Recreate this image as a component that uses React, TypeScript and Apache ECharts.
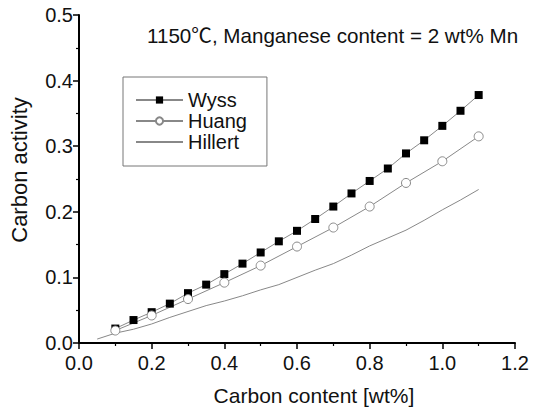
import React, { useEffect, useRef } from "react";
import * as echarts from "echarts";

const wyssX = [0.1, 0.15, 0.2, 0.25, 0.3, 0.35, 0.4, 0.45, 0.5, 0.55, 0.6, 0.65, 0.7, 0.75, 0.8, 0.85, 0.9, 0.95, 1.0, 1.05, 1.1];
const wyssY = [0.022, 0.035, 0.047, 0.06, 0.076, 0.089, 0.105, 0.121, 0.138, 0.155, 0.171, 0.189, 0.208, 0.228, 0.247, 0.266, 0.289, 0.309, 0.331, 0.354, 0.378];
const huangX = [0.1, 0.2, 0.3, 0.4, 0.5, 0.6, 0.7, 0.8, 0.9, 1.0, 1.1];
const huangY = [0.019, 0.042, 0.067, 0.092, 0.118, 0.147, 0.176, 0.208, 0.244, 0.277, 0.315];
const hillertX = [0.05, 0.1, 0.15, 0.2, 0.25, 0.3, 0.35, 0.4, 0.45, 0.5, 0.55, 0.6, 0.65, 0.7, 0.75, 0.8, 0.85, 0.9, 0.95, 1.0, 1.05, 1.1];
const hillertY = [0.006, 0.015, 0.021, 0.029, 0.039, 0.048, 0.057, 0.064, 0.072, 0.081, 0.089, 0.1, 0.111, 0.121, 0.134, 0.148, 0.16, 0.172, 0.187, 0.203, 0.218, 0.234];

const titleText = "1150℃, Manganese content = 2 wt% Mn";
const xName = "Carbon content [wt%]";
const yName = "Carbon activity";

const zip = (xs: number[], ys: number[]) => xs.map((x, i) => [x, ys[i]]);

export default function App() {
  const ref = useRef<HTMLDivElement>(null);
  useEffect(() => {
    if (!ref.current) return;
    const chart = echarts.init(ref.current, null, { renderer: "svg" });
    const font = "Liberation Sans, Arial, sans-serif";
    const titleFont = "'Liberation Sans', 'Noto Sans CJK SC', sans-serif";
    const axisCommon = {
      axisLine: { show: true, lineStyle: { color: "#000", width: 2 } },
      axisTick: { show: true, inside: false, length: 6, lineStyle: { color: "#000", width: 1.5 } },
      minorTick: { show: true, splitNumber: 2, length: 3, lineStyle: { color: "#000", width: 1.2 } },
      splitLine: { show: false },
      axisLabel: { color: "#111", fontSize: 20, fontFamily: font, formatter: (v: number) => v.toFixed(1) },
      nameLocation: "middle" as const,
    };
    chart.setOption({
      animation: false,
      backgroundColor: "#fff",
      title: {
        text: titleText,
        left: 142,
        top: 20,
        textStyle: { fontSize: 20.6, fontWeight: "normal", color: "#111", fontFamily: titleFont },
      },
      legend: {
        orient: "vertical",
        left: 123,
        top: 77,
        width: 132,
        padding: [13, 20, 14, 12],
        itemGap: 1,
        itemWidth: 47,
        itemHeight: 9,
        borderColor: "#777",
        borderWidth: 1,
        textStyle: { fontSize: 20, color: "#111", fontFamily: font },
        data: [
          { name: "Wyss" },
          { name: "Huang" },
          { name: "Hillert", itemStyle: { opacity: 0 } },
        ],
      },
      grid: { left: 76, right: 19, top: 15, bottom: 64 },
      xAxis: {
        type: "value",
        min: 0,
        max: 1.2,
        interval: 0.2,
        name: xName,
        nameGap: 42,
        ...axisCommon,
        nameTextStyle: { color: "#111", fontSize: 21, fontFamily: font, padding: [0, 0, 0, 34] },
        axisLabel: { ...axisCommon.axisLabel, margin: 10 },
      },
      yAxis: {
        type: "value",
        min: 0,
        max: 0.5,
        interval: 0.1,
        name: yName,
        nameGap: 49,
        ...axisCommon,
        nameTextStyle: { color: "#111", fontSize: 22, fontFamily: font, padding: [0, 0, 0, 18] },
        axisLabel: { ...axisCommon.axisLabel, margin: 6 },
      },
      series: [
        {
          name: "Wyss",
          type: "line",
          data: zip(wyssX, wyssY),
          symbol: "rect",
          symbolSize: 8,
          itemStyle: { color: "#000", borderColor: "#000", borderWidth: 0 },
          lineStyle: { color: "#888", width: 1 },
        },
        {
          name: "Huang",
          type: "line",
          data: zip(huangX, huangY),
          symbol: "circle",
          symbolSize: 9,
          itemStyle: { color: "#fff", borderColor: "#888", borderWidth: 1 },
          lineStyle: { color: "#888", width: 1 },
        },
        {
          name: "Hillert",
          type: "line",
          data: zip(hillertX, hillertY),
          symbol: "none",
          itemStyle: { color: "#888" },
          lineStyle: { color: "#888", width: 1 },
        },
      ],
    });
    return () => chart.dispose();
  }, []);
  return <div ref={ref} style={{ width: 534, height: 411, position: "absolute", left: 0, top: 0 }} />;
}
